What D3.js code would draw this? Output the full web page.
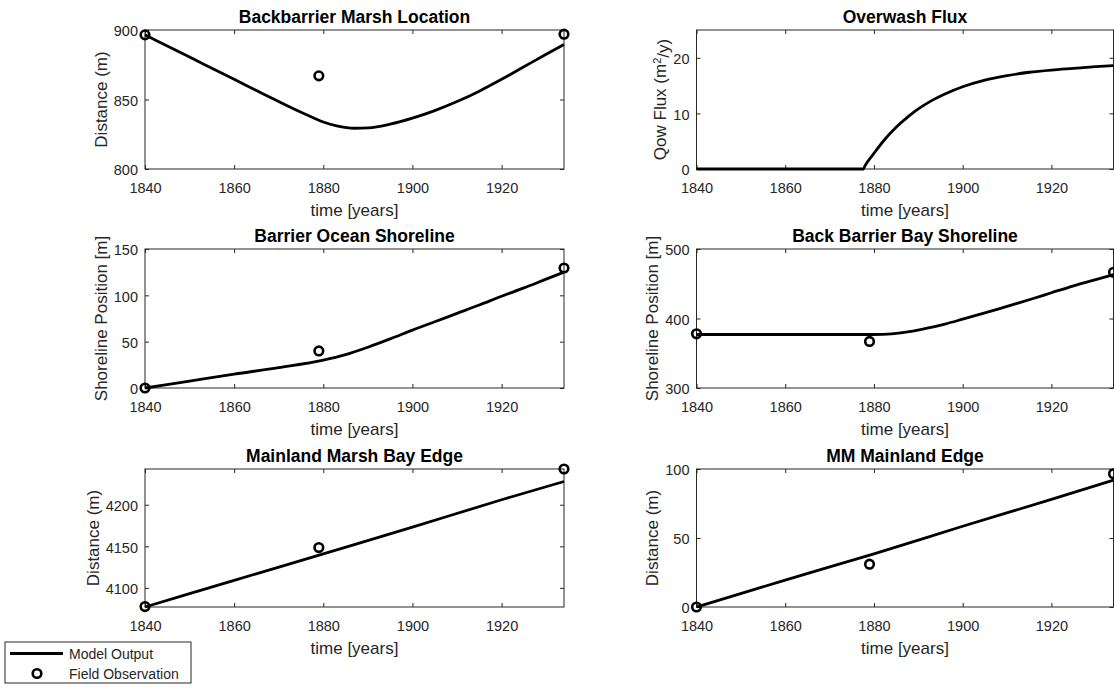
<!DOCTYPE html>
<html>
<head>
<meta charset="utf-8">
<script src="https://cdn.jsdelivr.net/npm/d3@7"></script>
<style>
  html, body { margin: 0; padding: 0; background: #fff; }
  svg { display: block; font-family: "Liberation Sans", Arial, Helvetica, sans-serif; }
</style>
</head>
<body>
<svg id="fig" width="1114" height="688"></svg>
<script>
// ---- data -------------------------------------------------------------
const xTicks = [1840, 1860, 1880, 1900, 1920];
const xDomain = [1840, 1934];
const obsYears = [1840, 1879, 1934];

// Backbarrier marsh location (m)
const marshYears = [1840, 1845, 1850, 1855, 1860, 1865, 1870, 1875, 1878, 1880, 1883, 1887, 1890, 1895, 1900, 1905, 1910, 1915, 1920, 1925, 1930, 1934];
const marshModel = [896.5, 888.5, 880.5, 872.5, 864.5, 856.5, 848.5, 840.8, 836.5, 833.8, 831, 829.3, 829.6, 832.3, 836.6, 842, 848.5, 856, 864.5, 873.5, 882.5, 889.5];
const marshObs = [896.5, 867, 897];

// Overwash flux (m^2/y)
const fluxYears = [1840, 1860, 1877.6, 1878, 1880, 1882, 1885, 1888, 1890, 1893, 1896, 1900, 1905, 1910, 1915, 1920, 1925, 1930, 1934];
const fluxModel = [0, 0, 0, 0.6, 2.8, 4.9, 7.5, 9.6, 10.8, 12.3, 13.5, 14.8, 16.0, 16.8, 17.4, 17.8, 18.1, 18.4, 18.6];

// Barrier ocean shoreline (m)
const oceanYears = [1840, 1850, 1860, 1870, 1880, 1885, 1890, 1895, 1900, 1905, 1910, 1915, 1920, 1925, 1930, 1934];
const oceanModel = [0, 7.5, 15, 22, 30, 36, 44, 53, 62.5, 71.5, 80.5, 89.5, 99, 108, 117.5, 125];
const oceanObs = [0, 40, 129.5];

// Back barrier bay shoreline (m)
const bayYears = [1840, 1860, 1880, 1884, 1888, 1892, 1896, 1900, 1905, 1910, 1915, 1920, 1925, 1930, 1934];
const bayModel = [377, 377, 377, 378, 381, 386, 392, 399, 408, 417.5, 427, 437, 447, 456, 463];
const bayObs = [378, 367, 466.5];

// Mainland marsh bay edge (m)
const mmBayYears = [1840, 1860, 1880, 1900, 1920, 1934];
const mmBayModel = [4077, 4109, 4141, 4173, 4206, 4228];
const mmBayObs = [4077.5, 4148.5, 4243];

// MM mainland edge (m)
const mmEdgeYears = [1840, 1860, 1880, 1900, 1920, 1934];
const mmEdgeModel = [0, 19.5, 38.5, 58.5, 78, 92];
const mmEdgeObs = [0, 31, 96.5];

// ---- panel layout -----------------------------------------------------
const colX = [[145, 564], [696.5, 1113.5]];
const rowY = [[30, 169], [249, 388], [469, 607]];

const panels = [
  { row: 0, col: 0, title: "Backbarrier Marsh Location", ylabel: "Distance (m)",
    yDomain: [800, 900], yTicks: [800, 850, 900],
    years: marshYears, model: marshModel, obs: marshObs },
  { row: 0, col: 1, title: "Overwash Flux", ylabel: "flux",
    yDomain: [0, 25], yTicks: [0, 10, 20],
    years: fluxYears, model: fluxModel, obs: null },
  { row: 1, col: 0, title: "Barrier Ocean Shoreline", ylabel: "Shoreline Position [m]",
    yDomain: [0, 150], yTicks: [0, 50, 100, 150],
    years: oceanYears, model: oceanModel, obs: oceanObs },
  { row: 1, col: 1, title: "Back Barrier Bay Shoreline", ylabel: "Shoreline Position [m]",
    yDomain: [300, 500], yTicks: [300, 400, 500],
    years: bayYears, model: bayModel, obs: bayObs },
  { row: 2, col: 0, title: "Mainland Marsh Bay Edge", ylabel: "Distance (m)",
    yDomain: [4077, 4243], yTicks: [4100, 4150, 4200],
    years: mmBayYears, model: mmBayModel, obs: mmBayObs },
  { row: 2, col: 1, title: "MM Mainland Edge", ylabel: "Distance (m)",
    yDomain: [0, 100], yTicks: [0, 50, 100],
    years: mmEdgeYears, model: mmEdgeModel, obs: mmEdgeObs }
];

const axisColor = "#262626";
const tickFont = 14.5, labelFont = 17, titleFont = 17.5;
const tickLen = 4;

const svg = d3.select("#fig");

panels.forEach(p => {
  const [x0, x1] = colX[p.col];
  const [y0, y1] = rowY[p.row];
  const x = d3.scaleLinear().domain(xDomain).range([x0, x1]);
  const y = d3.scaleLinear().domain(p.yDomain).range([y1, y0]);
  const g = svg.append("g");

  // axes box with inward ticks on all four sides
  const bottom = g.append("g").attr("transform", `translate(0,${y1})`)
    .call(d3.axisBottom(x).tickValues(xTicks).tickSizeInner(-tickLen).tickSizeOuter(0).tickPadding(10).tickFormat(d3.format("d")));
  const top = g.append("g").attr("transform", `translate(0,${y0})`)
    .call(d3.axisTop(x).tickValues(xTicks).tickSizeInner(-tickLen).tickSizeOuter(0).tickFormat(""));
  const left = g.append("g").attr("transform", `translate(${x0},0)`)
    .call(d3.axisLeft(y).tickValues(p.yTicks).tickSizeInner(-tickLen).tickSizeOuter(0).tickPadding(7).tickFormat(d3.format("d")));
  const right = g.append("g").attr("transform", `translate(${x1},0)`)
    .call(d3.axisRight(y).tickValues(p.yTicks).tickSizeInner(-tickLen).tickSizeOuter(0).tickFormat(""));

  [bottom, top, left, right].forEach(a => {
    a.select(".domain").remove();
    a.selectAll(".tick line").attr("stroke", axisColor).attr("stroke-width", 1);
    a.selectAll(".tick text").attr("fill", axisColor)
      .style("font-size", tickFont + "px").style("font-family", "Liberation Sans, Arial, sans-serif");
  });
  bottom.selectAll(".tick text").attr("dy", "0.95em");
  left.selectAll(".tick text").attr("dy", "0.4em");

  g.append("rect")
    .attr("x", x0).attr("y", y0).attr("width", x1 - x0).attr("height", y1 - y0)
    .attr("fill", "none").attr("stroke", axisColor).attr("stroke-width", 1);

  // title
  g.append("text")
    .attr("x", (x0 + x1) / 2).attr("y", y0 - 7)
    .attr("text-anchor", "middle")
    .style("font-size", titleFont + "px").style("font-weight", "bold")
    .attr("fill", "#000").text(p.title);

  // x label
  g.append("text")
    .attr("x", (x0 + x1) / 2).attr("y", y1 + 47)
    .attr("text-anchor", "middle")
    .style("font-size", labelFont + "px").attr("fill", axisColor)
    .text("time [years]");

  // y label offset from widest tick label
  let maxW = 0;
  left.selectAll(".tick text").each(function () { maxW = Math.max(maxW, this.getComputedTextLength()); });
  const yl = g.append("text")
    .attr("transform", `translate(${x0 - 7 - maxW - 13},${(y0 + y1) / 2}) rotate(-90)`)
    .attr("text-anchor", "middle").attr("dy", "0.35em")
    .style("font-size", labelFont + "px").attr("fill", axisColor);
  if (p.ylabel === "flux") {
    yl.append("tspan").text("Qow Flux (m");
    yl.append("tspan").attr("dy", "-0.45em").style("font-size", "11px").text("2");
    yl.append("tspan").attr("dy", "0.45em").text("/y)");
  } else {
    yl.text(p.ylabel);
  }

  // model curve
  const pts = p.years.map((t, i) => [t, p.model[i]]);
  g.append("path")
    .datum(pts)
    .attr("fill", "none").attr("stroke", "#000").attr("stroke-width", 2.8)
    .attr("stroke-linejoin", "round")
    .attr("d", d3.line().x(d => x(d[0])).y(d => y(d[1])).curve(d3.curveMonotoneX));

  // field observations
  if (p.obs) {
    g.selectAll("circle.obs")
      .data(obsYears.map((t, i) => [t, p.obs[i]]))
      .join("circle").attr("class", "obs")
      .attr("cx", d => x(d[0])).attr("cy", d => y(d[1]))
      .attr("r", 4.3).attr("fill", "none").attr("stroke", "#000").attr("stroke-width", 2.6);
  }
});

// ---- legend -----------------------------------------------------------
const lg = svg.append("g");
lg.append("rect").attr("x", 5).attr("y", 642).attr("width", 186).attr("height", 41)
  .attr("fill", "#fff").attr("stroke", axisColor).attr("stroke-width", 1);
lg.append("line").attr("x1", 10).attr("x2", 63).attr("y1", 653.5).attr("y2", 653.5)
  .attr("stroke", "#000").attr("stroke-width", 2.8);
lg.append("circle").attr("cx", 37).attr("cy", 673.5).attr("r", 4.3)
  .attr("fill", "none").attr("stroke", "#000").attr("stroke-width", 2.6);
lg.append("text").attr("x", 69).attr("y", 658.5).style("font-size", "14px").attr("fill", axisColor).text("Model Output");
lg.append("text").attr("x", 69).attr("y", 678.5).style("font-size", "14px").attr("fill", axisColor).text("Field Observation");
</script>
</body>
</html>
